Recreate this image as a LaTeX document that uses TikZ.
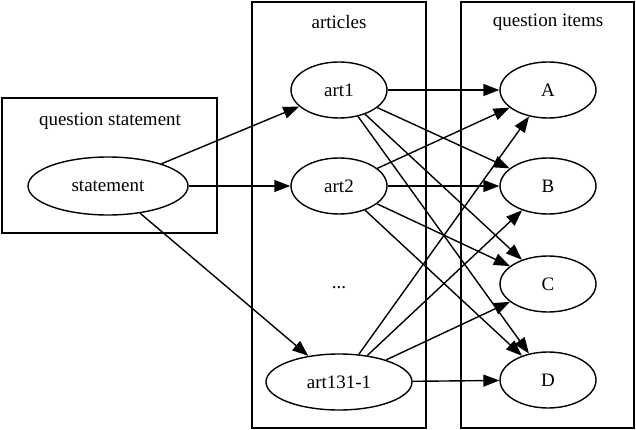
\documentclass[tikz,border=0pt]{standalone}
\usepackage{fontspec}
\setmainfont{Liberation Serif}
\usetikzlibrary{shapes.geometric,arrows.meta}
\begin{document}
\begin{tikzpicture}[x=1pt,y=-1pt,line width=1.4pt,
  el/.style={draw,ellipse,minimum width=96pt,minimum height=56pt,inner sep=0pt,font=\fontsize{19}{22}\selectfont},
  cl/.style={draw,line width=1.4pt},
  lab/.style={font=\fontsize{19}{22}\selectfont},
  ar/.style={-{Triangle[length=16pt,width=12pt]},line width=1.4pt}]
\useasboundingbox (0,0) rectangle (636,430);
\draw[cl] (2,98) rectangle (217,233);
\draw[cl] (252,2) rectangle (426,428);
\draw[cl] (461,2) rectangle (634,428);
\node[lab] (l1) at (110,121) {question statement};
\node[lab] (l2) at (339,22) {articles};
\node[lab] (l3) at (548,22) {question items};
\node[el,minimum width=160pt,minimum height=58pt] (s) at (108,186) {statement};
\node[el] (a1) at (339,90) {art1};
\node[el] (a2) at (339,186) {art2};
\node[lab] (dots) at (339,288) {...};
\node[el,minimum width=146pt] (a3) at (339,382) {art131-1};
\node[el] (A) at (548,90) {A};
\node[el] (B) at (548,186) {B};
\node[el] (C) at (548,284) {C};
\node[el] (D) at (548,380) {D};
\foreach \t in {a1,a2,a3} \draw[ar] (s) -- (\t);
\foreach \f in {a1,a2,a3} \foreach \t in {A,B,C,D} \draw[ar] (\f) -- (\t);
\end{tikzpicture}
\end{document}
